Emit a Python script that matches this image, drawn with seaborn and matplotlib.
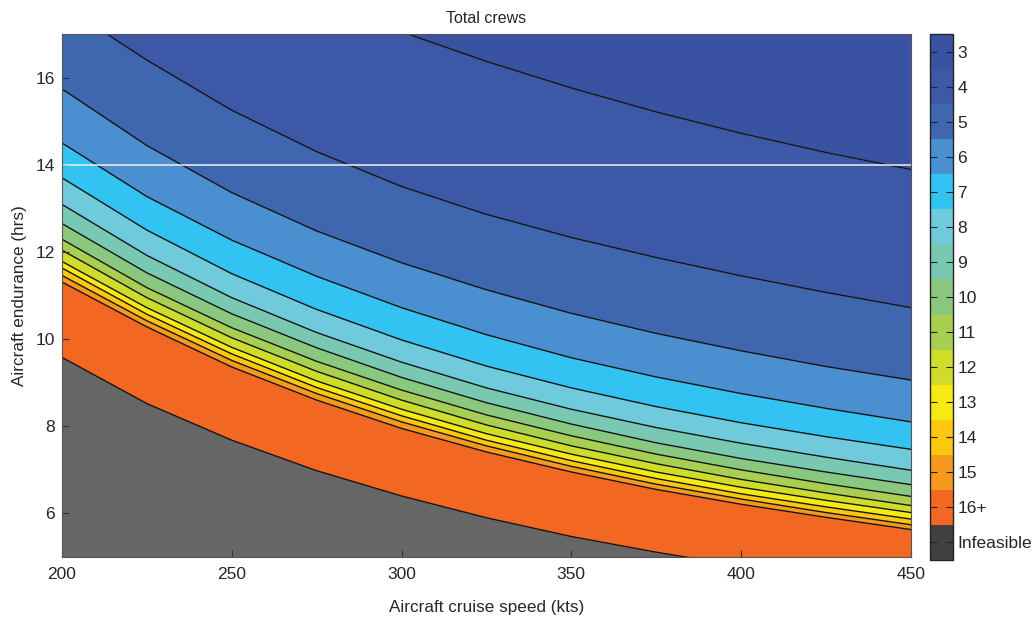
import numpy as np
import pandas as pd
import matplotlib
matplotlib.use("Agg")
import matplotlib.pyplot as plt
from matplotlib.colors import ListedColormap, BoundaryNorm
from matplotlib.cm import ScalarMappable
import seaborn as sns

sns.set_style("ticks")
plt.rcParams['font.family'] = ['Liberation Sans', 'DejaVu Sans']

# cruise speed (kts) where the boundaries were read
speed = [200, 225, 250, 275, 300, 325, 350, 375, 400, 425, 450]

# endurance (hrs) of each crew-count boundary
b_3_4 = [20.57, 19.57, 18.65, 17.81, 17.05, 16.37, 15.76, 15.21, 14.72, 14.28, 13.89]
b_4_5 = [17.67, 16.4, 15.25, 14.3, 13.5, 12.86, 12.33, 11.87, 11.45, 11.07, 10.72]
b_5_6 = [15.74, 14.44, 13.36, 12.48, 11.75, 11.13, 10.59, 10.13, 9.73, 9.37, 9.06]
b_6_7 = [14.5, 13.27, 12.27, 11.44, 10.72, 10.1, 9.57, 9.13, 8.75, 8.41, 8.10]
b_7_8 = [13.70, 12.5, 11.5, 10.68, 9.98, 9.38, 8.88, 8.45, 8.08, 7.76, 7.47]
b_8_9 = [13.09, 11.92, 10.95, 10.15, 9.47, 8.88, 8.39, 7.97, 7.61, 7.29, 6.99]
b_9_10 = [12.65, 11.52, 10.58, 9.80, 9.12, 8.54, 8.05, 7.62, 7.26, 6.95, 6.66]
b_10_11 = [12.29, 11.18, 10.26, 9.49, 8.83, 8.26, 7.78, 7.36, 7.0, 6.68, 6.39]
b_11_12 = [12.04, 10.95, 10.03, 9.26, 8.60, 8.03, 7.55, 7.14, 6.78, 6.47, 6.18]
b_12_13 = [11.78, 10.72, 9.81, 9.04, 8.39, 7.83, 7.36, 6.95, 6.60, 6.30, 6.02]
b_13_14 = [11.63, 10.57, 9.66, 8.89, 8.24, 7.68, 7.21, 6.80, 6.45, 6.15, 5.87]
b_14_15 = [11.46, 10.42, 9.51, 8.75, 8.10, 7.55, 7.08, 6.67, 6.33, 6.02, 5.74]
b_15_16 = [11.31, 10.28, 9.36, 8.60, 7.95, 7.41, 6.95, 6.55, 6.21, 5.91, 5.63]
b_16_inf = [9.58, 8.52, 7.68, 6.98, 6.40, 5.90, 5.47, 5.11, 4.79, 4.51, 4.26]

boundaries = [b_3_4, b_4_5, b_5_6, b_6_7, b_7_8, b_8_9, b_9_10, b_10_11,
              b_11_12, b_12_13, b_13_14, b_14_15, b_15_16, b_16_inf]

# band labels, top (fewest crews) to bottom
crew_labels = ['3', '4', '5', '6', '7', '8', '9', '10', '11', '12', '13',
               '14', '15', '16+', 'Infeasible']
band_colors = ['#3a52a2', '#3c58a6', '#3f67b0', '#4a8fd0', '#32c3f2',
               '#6fcbdc', '#79c9b2', '#8bc87f', '#a8cf52', '#d0dc2a',
               '#f5ea14', '#fcc70e', '#f7981f', '#f26722', '#666666']
bar_colors = band_colors[:-1] + ['#404040']

fig = plt.figure(figsize=(10.36, 6.2), dpi=100)
ax = fig.add_axes([0.0598, 0.1016, 0.8195, 0.8436])
cax = fig.add_axes([0.8977, 0.0968, 0.0222, 0.8484])

# filled bands between boundaries
upper = [np.full(len(speed), 30.0)] + boundaries
lower = boundaries + [np.zeros(len(speed))]
for top, bot, col in zip(upper, lower, band_colors):
    ax.fill_between(speed, bot, top, color=col, lw=0, zorder=1)

# contour lines
lines = pd.DataFrame({
    'speed': speed * len(boundaries),
    'endurance': np.concatenate(boundaries),
    'boundary': np.repeat(np.arange(len(boundaries)), len(speed)),
})
sns.lineplot(data=lines, x='speed', y='endurance', units='boundary',
             estimator=None, color='#141414', lw=1.0, ax=ax, zorder=2,
             legend=False)

ax.axhline(14, color='#f0f0f0', lw=1.1, zorder=3)

ax.set_axisbelow(False)
ax.set_xlim(200, 450)
ax.set_ylim(5, 17)
ax.set_xticks([200, 250, 300, 350, 400, 450])
ax.set_yticks([6, 8, 10, 12, 14, 16])
ax.tick_params(direction='in', length=5, width=0.8, labelsize=12.5, pad=7,
               top=False, right=False, color='#333333')
ax.tick_params(axis='y', pad=5)
for s in ax.spines.values():
    s.set_linewidth(0.8)
    s.set_color('#555555')
    s.set_zorder(4)
ax.set_xlabel('Aircraft cruise speed (kts)', fontsize=12.3, labelpad=13)
ax.set_ylabel('Aircraft endurance (hrs)', fontsize=12.3, labelpad=6)
ax.set_title('Total crews', fontsize=11.5, pad=8)

# discrete colorbar, Infeasible at the bottom
cmap = ListedColormap(bar_colors[::-1])
norm = BoundaryNorm(np.arange(len(bar_colors) + 1), cmap.N)
cb = fig.colorbar(ScalarMappable(norm=norm, cmap=cmap), cax=cax)
cb.minorticks_off()
cb.set_ticks(np.arange(len(bar_colors)) + 0.5)
cb.set_ticklabels(crew_labels[::-1])
cax.set_axisbelow(False)
cax.yaxis.set_ticks_position('both')
cax.yaxis.set_label_position('right')
cax.tick_params(which='major', direction='in', length=5, width=0.8,
                left=True, right=True, labelleft=False, labelright=True,
                labelsize=12.5, pad=3, color='#222222')
cb.outline.set_linewidth(1.0)
cb.outline.set_edgecolor('#222222')

fig.savefig('out.png', dpi=100)
